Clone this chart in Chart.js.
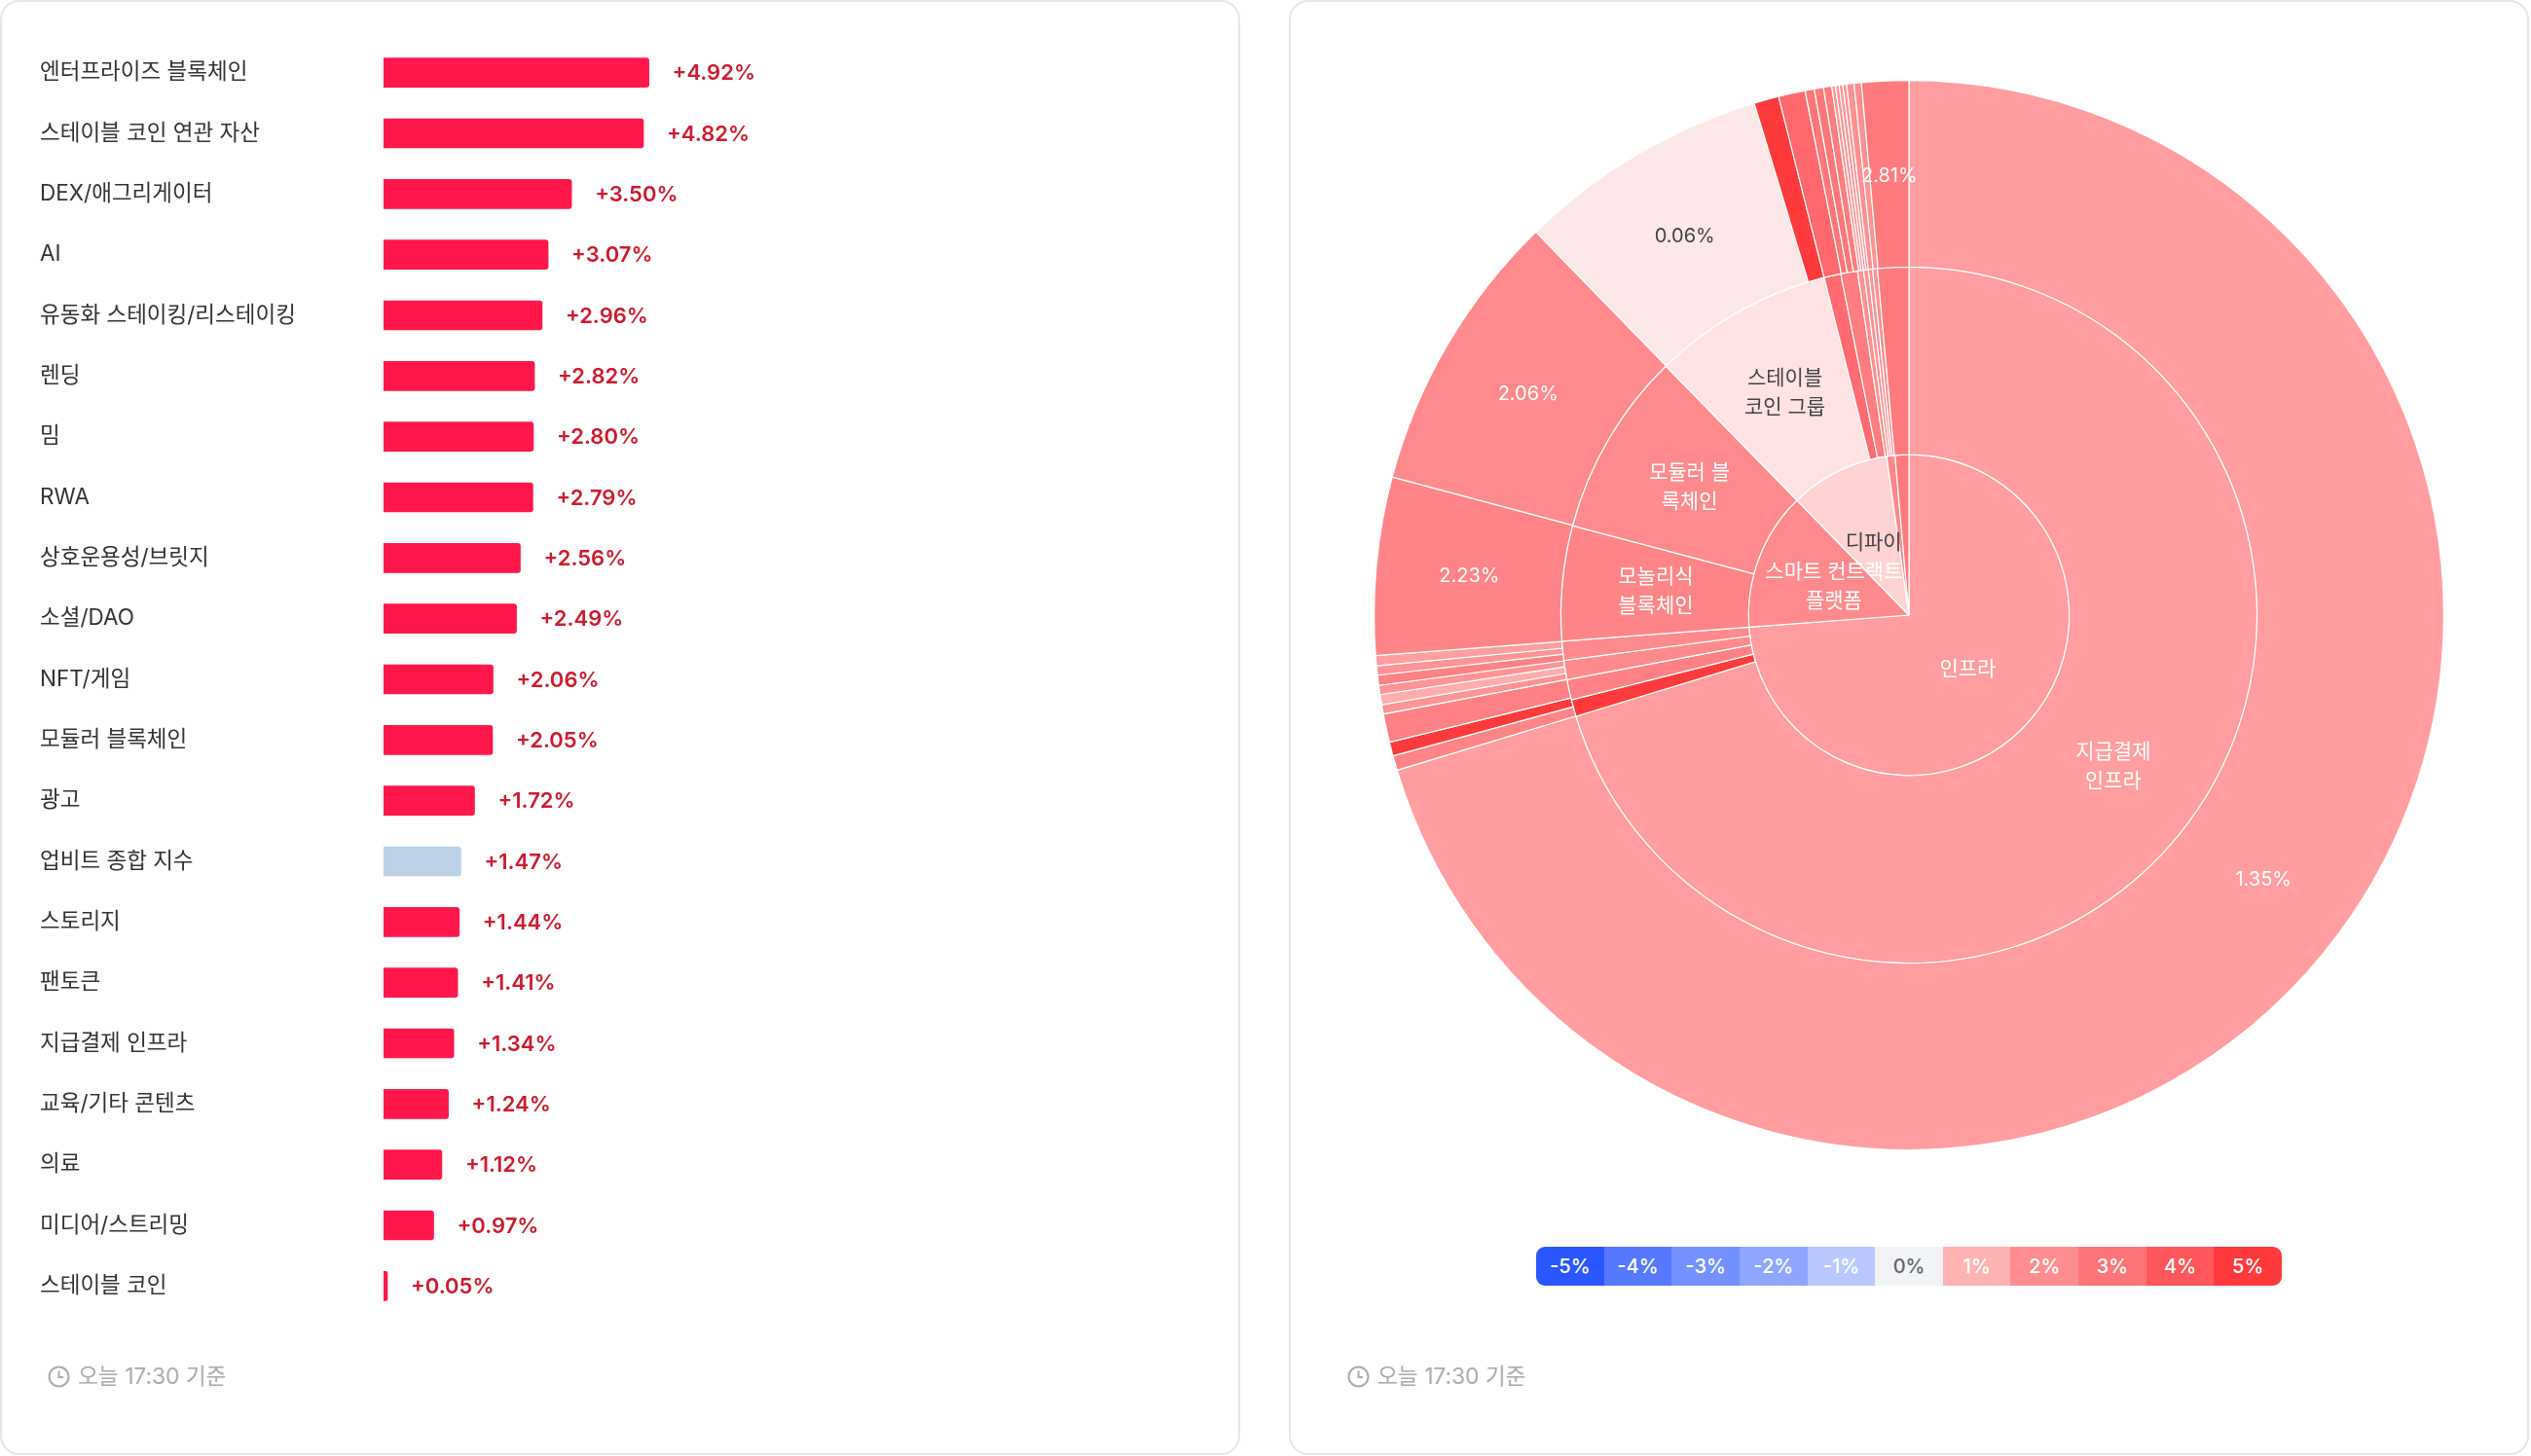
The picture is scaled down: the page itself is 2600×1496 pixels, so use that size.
<!DOCTYPE html>
<html lang="ko">
<head>
<meta charset="utf-8">
<title>테마별 등락률</title>
<script src="https://cdn.jsdelivr.net/npm/chart.js@4"></script>
<style>
  html, body { margin: 0; padding: 0; background: #fff; }
  body { position: relative; width: 2600px; height: 1496px; overflow: hidden;
         font-family: Inter, "Noto Sans CJK KR", sans-serif; }
  .card { position: absolute; top: 0; height: 1491px; width: 1270px;
          border: 2px solid #e2e6ef; border-radius: 20px; background: #fff; }
  #card-left  { left: 0; }
  #card-right { left: 1324px; }
  canvas { position: absolute; }
  #bar-chart { left: 41px; top: 30px; }
  #sun-chart { left: 1411px; top: 82px; }
  .stamp { position: absolute; top: 1400px; display: flex; align-items: center; gap: 8px;
           color: #a9abae; font-size: 22.7px; line-height: 28px; }
  .stamp svg { display: block; }
  #legend { position: absolute; left: 1578px; top: 1281px; width: 766px; height: 40px;
            display: flex; border-radius: 9px; overflow: hidden; }
  #legend div { flex: 1; text-align: center; line-height: 40px; font-size: 20px;
                font-weight: 500; color: #fff; }
</style>
</head>
<body>
<div class="card" id="card-left"></div>
<div class="card" id="card-right"></div>
<canvas id="bar-chart" width="910" height="1336"></canvas>
<canvas id="sun-chart" width="1100" height="1100"></canvas>
<div id="legend"></div>
<div class="stamp" style="left:49px"><svg width="23" height="23" viewBox="0 0 23 23" fill="none" stroke="#a9abae" stroke-width="2"><circle cx="11.5" cy="11.5" r="10"/><path d="M11.5 5.5v6.5h4.5"/></svg><span>오늘 17:30 기준</span></div>
<div class="stamp" style="left:1384px"><svg width="23" height="23" viewBox="0 0 23 23" fill="none" stroke="#a9abae" stroke-width="2"><circle cx="11.5" cy="11.5" r="10"/><path d="M11.5 5.5v6.5h4.5"/></svg><span>오늘 17:30 기준</span></div>

<script>
/* ─── Bar data ─────────────────────────────────── */
const barLabels = [
  '엔터프라이즈 블록체인', '스테이블 코인 연관 자산', 'DEX/애그리게이터', 'AI',
  '유동화 스테이킹/리스테이킹', '렌딩', '밈', 'RWA', '상호운용성/브릿지', '소셜/DAO',
  'NFT/게임', '모듈러 블록체인', '광고', '업비트 종합 지수', '스토리지', '팬토큰',
  '지급결제 인프라', '교육/기타 콘텐츠', '의료', '미디어/스트리밍', '스테이블 코인'
];
const barChanges = [
  4.92, 4.82, 3.50, 3.07, 2.96, 2.82, 2.80, 2.79, 2.56, 2.49, 2.06,
  2.05, 1.72, 1.47, 1.44, 1.41, 1.34, 1.24, 1.12, 0.97, 0.05
];
const indexLabel = '업비트 종합 지수';

/* ─── Sunburst data: slice shares (degrees of the circle) ── */
const outerShares = [
  253.0, 1.6, 1.5, 3.1, 1.0, 1.1, 1.0, 1.1, 1.0, 1.1, 19.3, 30.8, 27.4, 2.7,
  2.9, 1.0, 1.0, 0.9, 0.4, 0.4, 0.4, 0.4, 0.8, 0.8, 5.1
];
const outerLabels = [
  '1.35%', '', '', '', '', '', '', '', '', '', '2.23%', '2.06%', '0.06%', '',
  '', '', '', '', '', '', '', '', '', '', '2.81%'
];
const outerColors = [
  '#ff9da0', '#ff8487', '#ff3a3d', '#ff8185', '#ff9396', '#ffacae', '#ff9396', '#ff8185', '#ff9396', '#ff9da0',
  '#ff8487', '#ff8a8d', '#fde8e9', '#ff3a3d', '#ff696e', '#ff777a', '#ff777a', '#ff7c7f', '#ff9396', '#ff9396',
  '#ff9396', '#ff9396', '#ff8f92', '#ff9094', '#ff7a7d'
];

const midShares = [253.1, 2.8, 3.4, 3.2, 3.2, 19.2, 30.8, 30.2, 2.8, 2.8, 1.0, 0.8, 0.7, 0.8, 5.2];
const midLabels = [
  '지급결제\n인프라', '', '', '', '', '모놀리식\n블록체인', '모듈러 블\n록체인',
  '스테이블\n코인 그룹', '', '', '', '', '', '', ''
];
const midColors = [
  '#ff9da0', '#ff3a3d', '#ff8185', '#ff8a8d', '#ff8a8d', '#ff8487', '#ff8a8d',
  '#ffe3e4', '#ff6b70', '#ff7c80', '#ff8f92', '#ff8f92', '#ff8f92', '#ff8f92', '#ff7a7d'
];

const innerShares = [265.7, 50.0, 36.3, 3.0, 5.0];
const innerLabels = ['인프라', '스마트 컨트랙트\n플랫폼', '디파이', '', ''];
const innerColors = ['#ff9da0', '#ff8a8d', '#ffd2d4', '#ff868a', '#ff7a7d'];
const darkLabels = ['0.06%', '스테이블\n코인 그룹', '디파이'];

/* ─── Legend scale ─────────────────────────────── */
const legendTicks  = ['-5%', '-4%', '-3%', '-2%', '-1%', '0%', '1%', '2%', '3%', '4%', '5%'];
const legendColors = ['#2a56ff', '#5578ff', '#7291ff', '#8ea6ff', '#bac8ff', '#f1f3f7',
                      '#ffb4b4', '#ff8d8f', '#ff7478', '#ff575b', '#ff3a3c'];

const FONT = 'Inter, "Noto Sans CJK KR", sans-serif';

/* value text at the end of each bar */
const barValuePlugin = {
  id: 'barValues',
  afterDatasetsDraw(chart) {
    const { ctx } = chart;
    ctx.save();
    ctx.font = `600 22px ${FONT}`;
    ctx.fillStyle = '#cf1b30';
    ctx.textAlign = 'left';
    ctx.textBaseline = 'middle';
    chart.getDatasetMeta(0).data.forEach((bar, i) => {
      ctx.fillText(`+${barChanges[i].toFixed(2)}%`, bar.x + 24, bar.y + 1);
    });
    ctx.restore();
  }
};

new Chart(document.getElementById('bar-chart'), {
  type: 'bar',
  data: {
    labels: barLabels,
    datasets: [{
      data: barChanges,
      backgroundColor: barLabels.map(l => l === indexLabel ? '#bcd1e6' : '#ff174c'),
      barThickness: 30,
      minBarLength: 4,
      borderRadius: { topRight: 3, bottomRight: 3 },
      borderSkipped: 'start'
    }]
  },
  options: {
    indexAxis: 'y',
    responsive: false,
    animation: false,
    layout: { padding: 0 },
    plugins: { legend: { display: false }, tooltip: { enabled: false } },
    scales: {
      x: { display: false, min: 0.05, max: 10 },
      y: {
        grid: { display: false },
        border: { display: false },
        afterFit: scale => { scale.width = 353; },
        ticks: {
          autoSkip: false,
          crossAlign: 'far',
          padding: 0,
          color: '#333',
          font: { family: FONT, size: 22.5 }
        }
      }
    }
  },
  plugins: [barValuePlugin]
});

/* ring labels, drawn at each slice's centre */
const ringLabelPlugin = {
  id: 'ringLabels',
  afterDatasetsDraw(chart) {
    const { ctx } = chart;
    ctx.save();
    ctx.textAlign = 'center';
    ctx.textBaseline = 'middle';
    chart.data.datasets.forEach((ds, d) => {
      chart.getDatasetMeta(d).data.forEach((arc, i) => {
        const text = ds.sliceLabels[i];
        if (!text) return;
        const { x, y } = arc.getCenterPoint();
        const lines = text.split('\n');
        ctx.font = `${d === 0 ? 20 : 21}px ${FONT}`;
        ctx.fillStyle = darkLabels.includes(text) ? '#444' : '#fff';
        lines.forEach((line, n) => {
          ctx.fillText(line, x, y + (d === 0 ? 2 : 0) + (n - (lines.length - 1) / 2) * 30);
        });
      });
    });
    ctx.restore();
  }
};

const ring = (shares, colors, sliceLabels, weight) => ({
  data: shares,
  backgroundColor: colors,
  borderColor: '#fff',
  borderWidth: 1.2,
  weight,
  sliceLabels
});

new Chart(document.getElementById('sun-chart'), {
  type: 'doughnut',
  data: {
    datasets: [
      ring(outerShares, outerColors, outerLabels, 192),
      ring(midShares, midColors, midLabels, 193),
      ring(innerShares, innerColors, innerLabels, 165)
    ]
  },
  options: {
    responsive: false,
    animation: false,
    cutout: 0,
    layout: { padding: 0 },
    plugins: { legend: { display: false }, tooltip: { enabled: false } }
  },
  plugins: [ringLabelPlugin]
});

/* legend strip */
const legendEl = document.getElementById('legend');
legendTicks.forEach((t, i) => {
  const cell = document.createElement('div');
  cell.textContent = t;
  cell.style.background = legendColors[i];
  if (t === '0%') cell.style.color = '#666';
  legendEl.appendChild(cell);
});
</script>
</body>
</html>
